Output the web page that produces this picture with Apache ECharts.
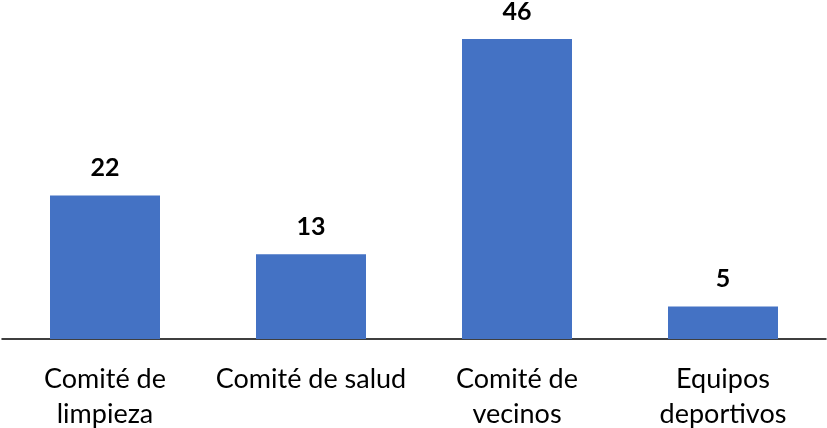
<!DOCTYPE html>
<html>
<head>
<meta charset="utf-8">
<script src="https://cdn.jsdelivr.net/npm/echarts@6/dist/echarts.min.js"></script>
<style>
  html, body { margin: 0; padding: 0; background: #fff; }
  #chart { width: 827px; height: 428px; }
</style>
</head>
<body>
<div id="chart"></div>
<script>
// categorias y valores
var categorias = ['Comité de\nlimpieza', 'Comité de salud', 'Comité de\nvecinos', 'Equipos\ndeportivos'];
var valores = [22, 13, 46, 5];

var chart = echarts.init(document.getElementById('chart'));
chart.setOption({
  animation: false,
  grid: { left: 2, right: 1, top: 13, bottom: 89, outerBoundsMode: 'none' },
  xAxis: {
    type: 'category',
    data: categorias,
    axisTick: { show: false },
    axisLine: { lineStyle: { color: '#000', width: 1.5 } },
    axisLabel: {
      interval: 0,
      margin: 23,
      color: '#000',
      fontSize: 27,
      lineHeight: 35,
      fontFamily: 'Lato'
    }
  },
  yAxis: {
    type: 'value',
    min: 0,
    max: 50,
    show: false,
    splitLine: { show: false }
  },
  series: [{
    type: 'bar',
    data: valores,
    barWidth: 110,
    itemStyle: { color: '#4472C4' },
    label: {
      show: true,
      position: 'top',
      distance: 15,
      color: '#000',
      fontSize: 25,
      fontWeight: 'bold',
      fontFamily: 'Lato'
    }
  }]
});
</script>
</body>
</html>
